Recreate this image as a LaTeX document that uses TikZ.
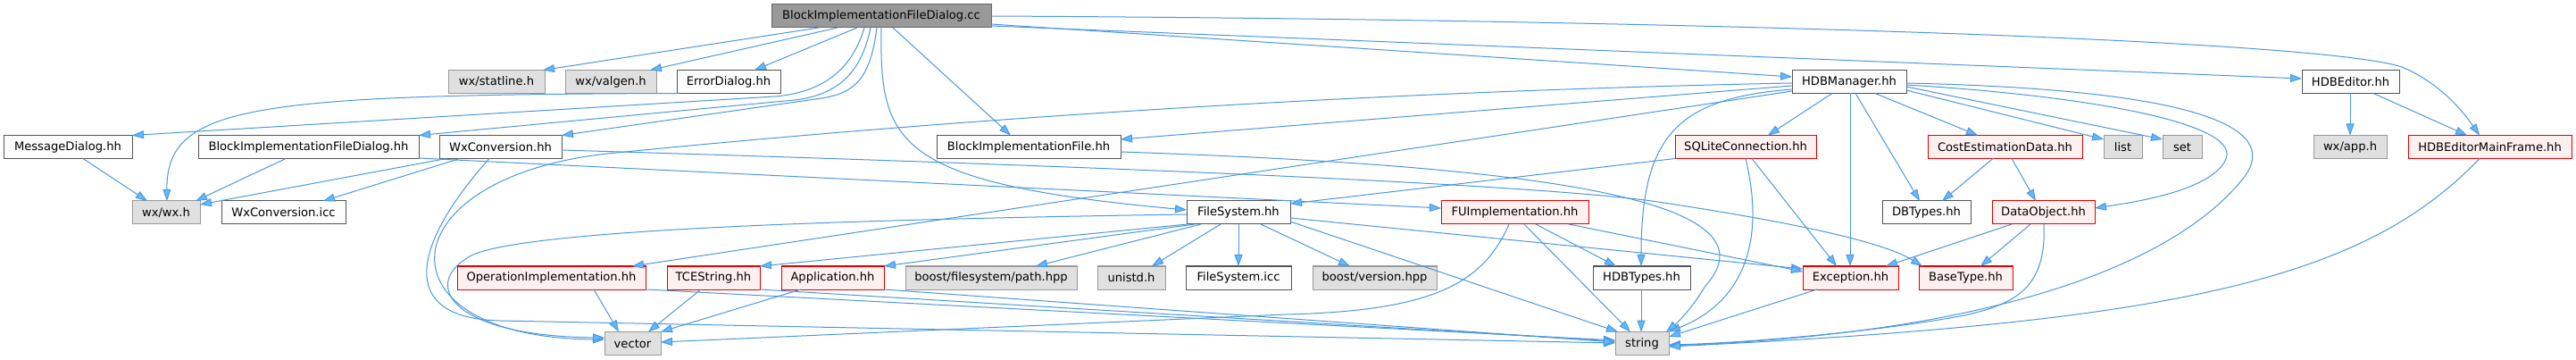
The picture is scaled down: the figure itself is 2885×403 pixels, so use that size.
\documentclass[tikz,border=0pt]{standalone}
\usepackage{fontspec}
\setmainfont{DejaVu Sans}
\usetikzlibrary{arrows.meta}
\definecolor{edgecol}{HTML}{4A98DE}
\definecolor{arrfill}{HTML}{63B8FF}
\definecolor{wfill}{HTML}{FBFCFB}
\definecolor{wdraw}{HTML}{555555}
\definecolor{gfill}{HTML}{E0E0E0}
\definecolor{gdraw}{HTML}{999999}
\definecolor{rfill}{HTML}{FFF0F0}
\definecolor{rdraw}{HTML}{E00000}
\definecolor{tfill}{HTML}{999999}
\definecolor{tdraw}{HTML}{666666}
\newcommand{\mknode}[6]{\node[#2, minimum width={#4-#3}] (#1) at ({(#3+#4)/2},#5) {#6};}
\begin{document}
\begin{tikzpicture}[x=1pt,y=-1pt,
  box/.style={draw, rectangle, inner sep=0pt, outer sep=0pt, minimum height=26pt, line width=1pt, font=\fontsize{13.1}{15}\selectfont, text=black},
  wn/.style={box, draw=wdraw, fill=wfill},
  gn/.style={box, draw=gdraw, fill=gfill},
  rn/.style={box, draw=rdraw, fill=rfill},
  tn/.style={box, draw=tdraw, fill=tfill},
  lnk/.style={draw=edgecol, line width=1pt, -{Triangle[length=13pt,width=9pt,fill=arrfill]}}
]
\fill[white] (0,0) rectangle (2885,403);
\useasboundingbox (0,0) rectangle (2885,403);
% row 0
\mknode{top}{tn}{864}{1110}{18}{BlockImplementationFileDialog.cc}
% row 1
\mknode{statline}{gn}{502}{610}{91.5}{wx/statline.h}
\mknode{valgen}{gn}{633}{735}{91.5}{wx/valgen.h}
\mknode{errdlg}{wn}{758}{874}{91.5}{ErrorDialog.hh}
\mknode{hdbman}{wn}{2007}{2135}{91.5}{HDBManager.hh}
\mknode{hdbed}{wn}{2578}{2687}{91.5}{HDBEditor.hh}
% row 2
\mknode{msgdlg}{wn}{4}{148}{164.5}{MessageDialog.hh}
\mknode{bifdh}{wn}{222}{469}{164.5}{BlockImplementationFileDialog.hh}
\mknode{wxconv}{wn}{492}{629}{164.5}{WxConversion.hh}
\mknode{bif}{wn}{1049}{1255}{164.5}{BlockImplementationFile.hh}
\mknode{sqlite}{rn}{1876}{2034}{164.5}{SQLiteConnection.hh}
\mknode{costest}{rn}{2159}{2332}{164.5}{CostEstimationData.hh}
\mknode{list}{gn}{2356}{2399}{164.5}{list}
\mknode{set}{gn}{2422}{2466}{164.5}{set}
\mknode{wxapp}{gn}{2591}{2673}{164.5}{wx/app.h}
\mknode{mainfr}{rn}{2697}{2880}{164.5}{HDBEditorMainFrame.hh}
% row 3
\mknode{wxwx}{gn}{148}{224}{238}{wx/wx.h}
\mknode{wxicc}{wn}{248}{387}{238}{WxConversion.icc}
\mknode{fs}{wn}{1329}{1445}{238}{FileSystem.hh}
\mknode{fuimpl}{rn}{1614}{1779}{238}{FUImplementation.hh}
\mknode{dbtypes}{wn}{2108}{2207}{238}{DBTypes.hh}
\mknode{dataobj}{rn}{2231}{2346}{238}{DataObject.hh}
% row 4
\mknode{opimpl}{rn}{512}{723}{311}{OperationImplementation.hh}
\mknode{tcestr}{rn}{747}{851}{311}{TCEString.hh}
\mknode{app}{rn}{875}{990}{311}{Application.hh}
\mknode{bfpath}{gn}{1014}{1206}{311}{boost/filesystem/path.hpp}
\mknode{unistd}{gn}{1229}{1305}{311}{unistd.h}
\mknode{fsicc}{wn}{1328}{1446}{311}{FileSystem.icc}
\mknode{bver}{gn}{1470}{1609}{311}{boost/version.hpp}
\mknode{hdbtypes}{wn}{1784}{1893}{311}{HDBTypes.hh}
\mknode{exc}{rn}{2019}{2126}{311}{Exception.hh}
\mknode{basetype}{rn}{2149}{2254}{311}{BaseType.hh}
% row 5
\mknode{vector}{gn}{677}{740}{384.5}{vector}
\mknode{string}{gn}{1809}{1869}{384.5}{string}

% edges from the top node
\draw[lnk] (917,0 |- top.south) -- (608,0 |- statline.north);
\draw[lnk] (938,0 |- top.south) -- (728,0 |- valgen.north);
\draw[lnk] (960,0 |- top.south) -- (845,0 |- errdlg.north);
\draw[lnk] (968,0 |- top.south) .. controls (955,75) and (925,103) .. (868,108) -- (msgdlg.north east);
\draw[lnk] (975,0 |- top.south) .. controls (965,80) and (940,106) .. (890,112) -- (bifdh.north east);
\draw[lnk] (982,0 |- top.south) .. controls (975,85) and (960,104) .. (920,110) -- (wxconv.north east);
\draw[lnk] (1000,0 |- top.south) -- (1132,0 |- bif.north);
\draw[lnk] (987,0 |- top.south) .. controls (985,160) and (1000,205) .. (fs.west |- 0,235);
\draw[lnk] (top.east |- 0,27) -- (hdbman.west |- 0,86);
\draw[lnk] (top.east |- 0,29) -- (hdbed.west |- 0,88);
\draw[lnk] (top.east |- 0,18) .. controls (1900,22) and (2600,45) .. (2690,75) .. controls (2730,92) and (2755,120) .. (2777,0 |- mainfr.north);

% left part
\draw[lnk] (760,0 |- errdlg.south) .. controls (280,106) and (186,118) .. (187,0 |- wxwx.north);
\draw[lnk] (93,0 |- msgdlg.south) -- (165,0 |- wxwx.north);
\draw[lnk] (320,0 |- bifdh.south) -- (219,0 |- wxwx.north);
\draw[lnk] (500,0 |- wxconv.south) -- (wxwx.east |- 0,229);
\draw[lnk] (515,0 |- wxconv.south) -- (362,0 |- wxicc.north);
\draw[lnk] (bifdh.east |- 0,177) -- (fuimpl.west |- 0,233);
\draw[lnk] (wxconv.east |- 0,168) .. controls (1200,185) and (1700,205) .. (1850,225) .. controls (1950,240) and (2100,265) .. (2153,0 |- basetype.north);
\draw[lnk] (548,0 |- wxconv.south) .. controls (465,270) and (440,356) .. (560,359) -- (string.west |- 0,384);

% into vector
\draw[lnk] (hdbman.west |- 0,93) .. controls (1400,105) and (900,150) .. (680,172) .. controls (430,200) and (420,378) .. (vector.west |- 0,380);
\draw[lnk] (fs.west |- 0,240) .. controls (1000,245) and (600,255) .. (530,285) .. controls (470,315) and (500,376) .. (vector.west |- 0,378);
\draw[lnk] (1690,0 |- fuimpl.south) .. controls (1660,320) and (1600,348) .. (1440,352) -- (vector.east |- 0,383);
\draw[lnk] (665,0 |- opimpl.south) -- (693,0 |- vector.north);
\draw[lnk] (785,0 |- tcestr.south) -- (726,0 |- vector.north);
\draw[lnk] (897,0 |- app.south) -- (vector.north east);

% into string from the left
\draw[lnk] (723,0 |- opimpl.south) -- (string.west |- 0,381);
\draw[lnk] (851,0 |- tcestr.south) -- (string.west |- 0,382);
\draw[lnk] (990,0 |- app.south) -- (string.west |- 0,383);

% FileSystem.hh
\draw[lnk] (fs.east |- 0,248) -- (1812,0 |- string.north);
\draw[lnk] (fs.east |- 0,244) -- (exc.west |- 0,301);
\draw[lnk] (1330,0 |- fs.south) -- (tcestr.north east);
\draw[lnk] (1338,0 |- fs.south) -- (app.north east);
\draw[lnk] (1345,0 |- fs.south) -- (1160,0 |- bfpath.north);
\draw[lnk] (1367,0 |- fs.south) -- (1290,0 |- unistd.north);
\draw[lnk] (1387,0 |- fs.south) -- (1387,0 |- fsicc.north);
\draw[lnk] (1412,0 |- fs.south) -- (1512,0 |- bver.north);

% SQLiteConnection.hh
\draw[lnk] (sqlite.south west) -- (fs.east |- 0,228);
\draw[lnk] (1962,0 |- sqlite.south) -- (2057,0 |- exc.north);
\draw[lnk] (1955,0 |- sqlite.south) .. controls (1975,260) and (1960,335) .. (string.north east);

% FUImplementation.hh
\draw[lnk] (1720,0 |- fuimpl.south) -- (1810,0 |- hdbtypes.north);
\draw[lnk] (1707,0 |- fuimpl.south) -- (1826,0 |- string.north);
\draw[lnk] (1757,0 |- fuimpl.south) -- (exc.west |- 0,304);

\draw[lnk] (1838,0 |- hdbtypes.south) -- (1838,0 |- string.north);
\draw[lnk] (2035,0 |- exc.south) -- (string.east |- 0,377);

% DataObject.hh, CostEstimationData.hh
\draw[lnk] (2253,0 |- dataobj.south) -- (2112,0 |- exc.north);
\draw[lnk] (2274,0 |- dataobj.south) -- (2218,0 |- basetype.north);
\draw[lnk] (2289,0 |- dataobj.south) .. controls (2292,320) and (2260,340) .. (2200,353) .. controls (2100,372) and (1950,384) .. (string.east |- 0,386);
\draw[lnk] (2232,0 |- costest.south) -- (2175,0 |- dbtypes.north);
\draw[lnk] (2253,0 |- costest.south) -- (2280,0 |- dataobj.north);

% HDBManager.hh
\draw[lnk] (2052,0 |- hdbman.south) -- (1980,0 |- sqlite.north);
\draw[lnk] (2072,0 |- hdbman.south) -- (2072,0 |- exc.north);
\draw[lnk] (2078,0 |- hdbman.south) -- (2150,0 |- dbtypes.north);
\draw[lnk] (2100,0 |- hdbman.south) -- (2215,0 |- costest.north);
\draw[lnk] (hdbman.east |- 0,101) -- (list.west |- 0,156);
\draw[lnk] (hdbman.east |- 0,97) -- (set.west |- 0,156);
\draw[lnk] (hdbman.east |- 0,95) .. controls (2350,108) and (2515,140) .. (2492,180) .. controls (2475,212) and (2400,225) .. (dataobj.east |- 0,233);
\draw[lnk] (hdbman.east |- 0,93) .. controls (2450,100) and (2560,140) .. (2512,200) .. controls (2440,290) and (2250,372) .. (string.east |- 0,387);
\draw[lnk] (hdbman.west |- 0,100) .. controls (1880,110) and (1838,150) .. (1838,0 |- hdbtypes.north);
\draw[lnk] (hdbman.west |- 0,96) -- (bif.east |- 0,156);
\draw[lnk] (hdbman.west |- 0,102) -- (708,0 |- opimpl.north);

% BlockImplementationFile.hh
\draw[lnk] (bif.east |- 0,170) .. controls (1700,185) and (2000,220) .. (1910,320) .. controls (1895,345) and (1880,360) .. (1866,0 |- string.north);

% HDBEditor
\draw[lnk] (2632,0 |- hdbed.south) -- (2632,0 |- wxapp.north);
\draw[lnk] (2658,0 |- hdbed.south) -- (2763,0 |- mainfr.north);
\draw[lnk] (2777,0 |- mainfr.south) .. controls (2650,310) and (2450,360) .. (string.east |- 0,388);
\end{tikzpicture}
\end{document}
